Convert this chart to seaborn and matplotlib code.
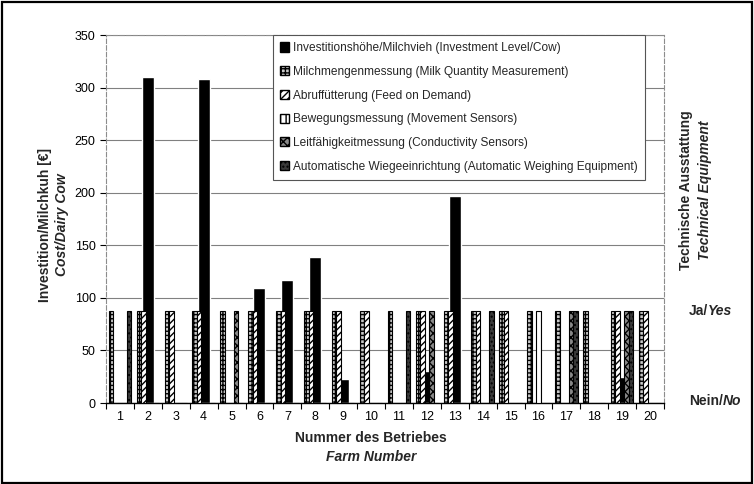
import numpy as np
import pandas as pd
import matplotlib
matplotlib.use('Agg')
import matplotlib.pyplot as plt
from matplotlib.patches import Patch, Rectangle
import seaborn as sns

# farm numbers and investment per cow [EUR]
farms = ['1', '2', '3', '4', '5', '6', '7', '8', '9', '10',
         '11', '12', '13', '14', '15', '16', '17', '18', '19', '20']
invest = [0, 310, 0, 308, 0, 109, 117, 139, 23, 0,
          0, 30, 197, 0, 0, 0, 0, 0, 25, 0]

# technical equipment: 1 = Ja/Yes, 0 = Nein/No
milk = [1, 1, 1, 1, 1, 1, 1, 1, 1, 1, 1, 1, 1, 1, 1, 1, 1, 1, 1, 1]
feed = [0, 1, 1, 1, 0, 1, 1, 1, 1, 1, 0, 1, 1, 1, 1, 0, 0, 0, 1, 1]
move = [0, 0, 0, 0, 0, 0, 0, 0, 0, 0, 0, 0, 0, 0, 0, 1, 0, 0, 0, 0]
cond = [0, 0, 0, 0, 1, 0, 0, 0, 0, 0, 0, 1, 0, 0, 0, 0, 1, 0, 1, 0]
weigh = [1, 0, 0, 0, 0, 0, 0, 0, 0, 0, 1, 0, 0, 1, 0, 0, 1, 0, 1, 0]
YES_LEVEL = 87.5

inv_name = 'Investitionshöhe/Milchvieh (Investment Level/Cow)'
equip_names = [
    'Milchmengenmessung (Milk Quantity Measurement)',
    'Abruffütterung (Feed on Demand)',
    'Bewegungsmessung (Movement Sensors)',
    'Leitfähigkeitmessung (Conductivity Sensors)',
    'Automatische Wiegeeinrichtung (Automatic Weighing Equipment)',
]
equip_flags = [milk, feed, move, cond, weigh]
faces = ['#c8c8c8', 'white', 'white', '#8a8a8a', '#3a3a3a']
hatches = ['++++', '/////', '|||', 'xxxx', '....']

df = pd.DataFrame({
    'Betrieb': farms * len(equip_names),
    'Merkmal': [n for n in equip_names for _ in farms],
    'Wert': [f * YES_LEVEL for flags in equip_flags for f in flags],
})

sns.set_theme(style='white')
plt.rcParams['font.family'] = ['Liberation Sans', 'DejaVu Sans']
plt.rcParams['hatch.linewidth'] = 1.0

fig = plt.figure(figsize=(7.54, 4.84), dpi=100)
ax = fig.add_axes([106 / 754, 81 / 484, 558 / 754, 368 / 484])

# investment bars sit behind the equipment bars, centred on each farm
sns.barplot(x=farms, y=invest, order=farms, color='black', width=0.43,
            saturation=1, ax=ax, zorder=2, errorbar=None)
sns.barplot(data=df, x='Betrieb', y='Wert', hue='Merkmal', order=farms,
            hue_order=equip_names, palette=faces, width=0.8, dodge=True,
            saturation=1, ax=ax, legend=False, zorder=3, errorbar=None,
            edgecolor='black', linewidth=0.8)

for cont, h in zip(ax.containers[1:], hatches):
    for bar in cont:
        bar.set_hatch(h)

ax.set_ylim(0, 350)
ax.set_xlim(-0.5, 19.5)
ax.set_yticks(range(0, 351, 50))
ax.yaxis.grid(True, color='#808080', linewidth=0.8)
ax.set_axisbelow(True)
ax.set_xlabel('')
ax.set_ylabel('')

ax.set_xticks(np.arange(-0.5, 20, 1), minor=True)
ax.tick_params(axis='x', which='major', length=0, labelsize=9, pad=6, colors='black')
ax.tick_params(axis='x', which='minor', length=4, width=0.8, direction='out',
               bottom=True, color='black')
ax.tick_params(axis='y', length=4, width=0.8, direction='out', left=True,
               labelsize=9, colors='black')

for side in ['top', 'right', 'left']:
    ax.spines[side].set_color('#8c8c8c')
    ax.spines[side].set_linestyle((0, (4, 2)))
    ax.spines[side].set_linewidth(0.8)
ax.spines['bottom'].set_color('black')
ax.spines['bottom'].set_linewidth(1.0)

handles = [Patch(facecolor='black', edgecolor='black', label=inv_name)]
for n, fc, h in zip(equip_names, faces, hatches):
    handles.append(Patch(facecolor=fc, edgecolor='black', hatch=h, label=n))
leg = ax.legend(handles=handles, loc='upper right',
                bbox_to_anchor=((645 - 106) / 558, 1.0), borderaxespad=0,
                fontsize=8.6, frameon=True, fancybox=False, framealpha=1,
                edgecolor='#555555', handlelength=0.8, handleheight=0.8,
                handletextpad=0.3, labelspacing=0.98, borderpad=0.6)
leg.get_frame().set_linewidth(0.8)

# axis titles
fig.text(45 / 754, 1 - 225 / 484, 'Investition/Milchkuh [€]', rotation=90,
         ha='center', va='center', fontsize=10, fontweight='bold')
fig.text(62 / 754, 1 - 225 / 484, 'Cost/Dairy Cow', rotation=90,
         ha='center', va='center', fontsize=10, fontweight='bold', fontstyle='italic')
fig.text(371 / 754, 1 - 438 / 484, 'Nummer des Betriebes', ha='center',
         va='center', fontsize=10, fontweight='bold')
fig.text(371 / 754, 1 - 457 / 484, 'Farm Number', ha='center',
         va='center', fontsize=10, fontweight='bold', fontstyle='italic')
fig.text(686 / 754, 1 - 190 / 484, 'Technische Ausstattung', rotation=90,
         ha='center', va='center', fontsize=10, fontweight='bold')
fig.text(705 / 754, 1 - 190 / 484, 'Technical Equipment', rotation=90,
         ha='center', va='center', fontsize=10, fontweight='bold', fontstyle='italic')

# yes / no markers on the right side
trans = ax.get_yaxis_transform()
ax.text((708 - 106) / 558, YES_LEVEL, 'Ja/', transform=trans, ha='right',
        va='center', fontsize=10, fontweight='bold', clip_on=False)
ax.text((708 - 106) / 558, YES_LEVEL, 'Yes', transform=trans, ha='left',
        va='center', fontsize=10, fontweight='bold', fontstyle='italic', clip_on=False)
ax.text((723 - 106) / 558, 2, 'Nein/', transform=trans, ha='right',
        va='center', fontsize=10, fontweight='bold', clip_on=False)
ax.text((723 - 106) / 558, 2, 'No', transform=trans, ha='left',
        va='center', fontsize=10, fontweight='bold', fontstyle='italic', clip_on=False)

fig.add_artist(Rectangle((0.002, 0.003), 0.995, 0.993, transform=fig.transFigure,
                         fill=False, edgecolor='black', linewidth=1.6))

fig.savefig('out.png', dpi=100)
